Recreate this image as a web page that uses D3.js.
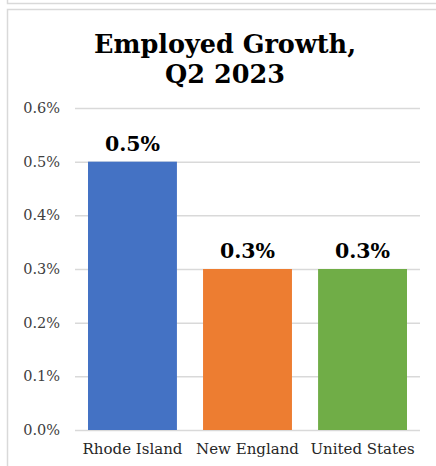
<!DOCTYPE html>
<html>
<head>
<meta charset="utf-8">
<script src="https://cdn.jsdelivr.net/npm/d3@7.9.0/dist/d3.min.js"></script>
<style>
  html, body { margin: 0; padding: 0; background: #fff; }
  svg { display: block; }
</style>
</head>
<body>
<div id="chart"></div>
<script>
// Employed growth, Q2 2023
const categories = ['Rhode Island', 'New England', 'United States'];
const values = [0.005, 0.003, 0.003];
const valueLabels = ['0.5%', '0.3%', '0.3%'];
const tickValues = [0, 0.001, 0.002, 0.003, 0.004, 0.005, 0.006];
const barColors = ['#4472C4', '#ED7D31', '#70AD47'];

const width = 436, height = 466;
const FONT = "'DejaVu Serif', 'Liberation Serif', serif";

const svg = d3.select('#chart')
    .append('svg')
    .attr('width', width)
    .attr('height', height);

// frame bits (previous chart bottom edge + this chart's border)
svg.append('path')
    .attr('d', 'M7.5,0 V3.5 H436')
    .attr('fill', 'none').attr('stroke', '#d9d9d9').attr('stroke-width', 1.5);
svg.append('path')
    .attr('d', 'M7.5,466 V9.5 H436')
    .attr('fill', 'none').attr('stroke', '#d9d9d9').attr('stroke-width', 1.5);

// title
const title = svg.append('text')
    .attr('text-anchor', 'middle')
    .attr('font-family', FONT)
    .attr('font-weight', 'bold')
    .attr('font-size', '25.5px')
    .attr('fill', '#000');
title.append('tspan').attr('x', 225).attr('y', 53).text('Employed Growth,');
title.append('tspan').attr('x', 225).attr('y', 83).text('Q2 2023');

const margin = { left: 75, right: 16, top: 108, bottom: 36 };

const x = d3.scaleBand()
    .domain(categories)
    .range([margin.left, width - margin.right])
    .paddingInner(0.227)
    .paddingOuter(0.113);

const y = d3.scaleLinear()
    .domain([0, 0.006])
    .range([height - margin.bottom, margin.top]);

// gridlines + tick labels
const yAxis = svg.append('g')
    .attr('transform', `translate(${margin.left},0)`)
    .call(d3.axisLeft(y)
        .tickValues(tickValues)
        .tickFormat(d3.format('.1%'))
        .tickSize(-(width - margin.right - margin.left))
        .tickPadding(15));
yAxis.select('.domain').remove();
yAxis.selectAll('.tick line').attr('stroke', '#d9d9d9').attr('stroke-width', 1.5);
yAxis.selectAll('.tick text')
    .attr('font-family', FONT)
    .attr('font-size', '14.5px')
    .attr('fill', '#404040');

// bars
svg.append('g')
    .selectAll('rect')
    .data(values)
    .join('rect')
    .attr('x', (_, i) => x(categories[i]))
    .attr('y', d => y(d))
    .attr('width', x.bandwidth())
    .attr('height', d => y(0) - y(d))
    .attr('fill', (_, i) => barColors[i]);

// value labels
svg.append('g')
    .selectAll('text')
    .data(values)
    .join('text')
    .attr('x', (_, i) => x(categories[i]) + x.bandwidth() / 2)
    .attr('y', d => y(d) - 11)
    .attr('text-anchor', 'middle')
    .attr('font-family', FONT)
    .attr('font-weight', 'bold')
    .attr('font-size', '20.5px')
    .attr('fill', '#000')
    .text((_, i) => valueLabels[i]);

// category labels
const xAxis = svg.append('g')
    .attr('transform', `translate(0,${y(0)})`)
    .call(d3.axisBottom(x).tickSize(0).tickPadding(13));
xAxis.select('.domain').remove();
xAxis.selectAll('.tick text')
    .attr('font-family', FONT)
    .attr('font-size', '15px')
    .attr('fill', '#262626');
</script>
</body>
</html>
